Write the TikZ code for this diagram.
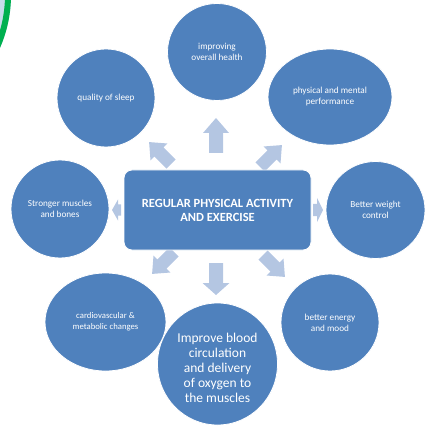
\documentclass[tikz,border=0pt]{standalone}
\usepackage{fontspec}
\setmainfont{Carlito}
\usetikzlibrary{shapes.geometric}
\definecolor{cblue}{HTML}{4F81BD}
\definecolor{ablue}{HTML}{B4C6E2}
\definecolor{gring}{HTML}{00B050}
\definecolor{lring}{HTML}{C5DCEB}
\newcommand{\blockarr}[8]{% tailx taily angle L hl sw hw name
  \fill[ablue, shift={(#1,#2)}, rotate=#3] (0,-#6/2) -- (#4-#5,-#6/2) -- (#4-#5,-#7/2) -- (#4,0) -- (#4-#5,#7/2) -- (#4-#5,#6/2) -- (0,#6/2) -- cycle;
  \coordinate (#8) at (#1,#2);}
\begin{document}
\begin{tikzpicture}[x=1pt,y=-1pt,
  bub/.style={ellipse, fill=cblue, draw=white, line width=0.8pt, inner sep=0pt, text=white, align=center, font=\fontsize{9.2}{11}\selectfont},
  core/.style={rectangle, rounded corners=8pt, fill=cblue, draw=white, line width=0.8pt, text=white, align=center, inner sep=0pt, font=\fontsize{12.5}{14}\selectfont\bfseries}]
\useasboundingbox (0,0) rectangle (425,427);
% corner decoration
\begin{scope}
\clip (0,0) rectangle (425,427);
\fill[lring] (-121,-5) circle (132pt);
\draw[gring, line width=6pt] (-121,-5) circle (129pt);
\end{scope}
% arrows
\blockarr{216}{153}{90}{35}{15}{14}{26}{aU}
\blockarr{216}{263}{-90}{32}{12}{14}{27}{aD}
\blockarr{171}{164}{135}{31}{14}{13}{24}{aUL}
\blockarr{260}{167}{45}{31}{14}{13}{24}{aUR}
\blockarr{174}{252}{-135}{31}{14}{13}{24}{aDL}
\blockarr{263}{255}{-45}{31}{14}{13}{24}{aDR}
\blockarr{121}{210}{180}{9}{6}{11}{21}{aL}
\blockarr{313}{210}{0}{10}{6}{12}{24}{aR}
% center
\node[core, minimum width=187pt, minimum height=80pt] (center) at (217.5,210) {REGULAR PHYSICAL ACTIVITY\\AND EXERCISE};
% bubbles
\node[bub, minimum width=99pt, minimum height=97pt] (health) at (217,52) {improving\\overall health};
\node[bub, minimum width=98pt, minimum height=98pt] (sleep) at (106,98) {quality of sleep};
\node[bub, minimum width=124pt, minimum height=96pt] (perf) at (330,97) {physical and mental\\performance};
\node[bub, minimum width=98pt, minimum height=98pt] (muscle) at (60,209) {Stronger muscles\\and bones};
\node[bub, minimum width=99pt, minimum height=97pt] (weight) at (375.5,210) {Better weight\\control};
\node[bub, minimum width=121pt, minimum height=98pt, font=\fontsize{8.7}{11}\selectfont] (cardio) at (105.5,322) {cardiovascular \&\\metabolic changes};
\node[bub, minimum width=98pt, minimum height=97pt] (energy) at (330,322.5) {better energy\\and mood};
\node[bub, minimum width=120pt, minimum height=122pt] (blood) at (217.5,364) {};
\node[text=white, align=center, inner sep=0pt, font=\fontsize{13.5}{15}\selectfont] (bloodtext) at (217.5,368) {Improve blood\\circulation\\and delivery\\of oxygen to\\the muscles};
\end{tikzpicture}
\end{document}
